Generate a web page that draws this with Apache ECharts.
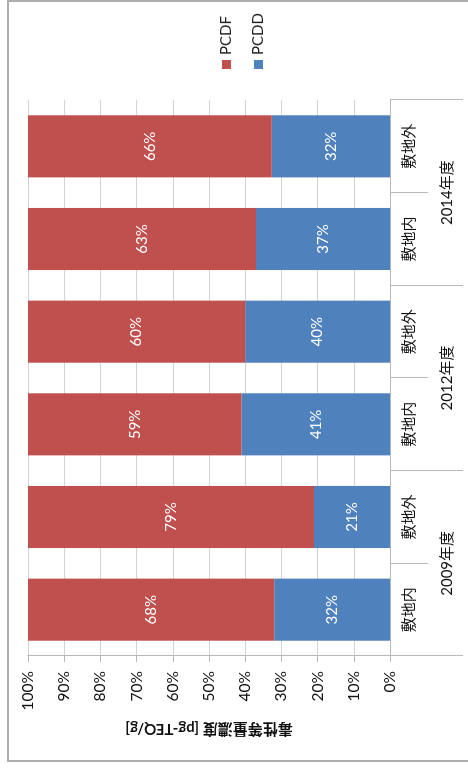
<!DOCTYPE html>
<html>
<head>
<meta charset="utf-8">
<script src="https://cdn.jsdelivr.net/npm/echarts@6/dist/echarts.min.js"></script>
<style>
html,body{margin:0;padding:0;background:#fff;}
#wrap{position:relative;width:468px;height:769px;overflow:hidden;background:#fff;}
#chart{position:absolute;left:0;top:0;width:769px;height:468px;transform-origin:0 0;transform:translate(0,769px) rotate(-90deg);}
</style>
</head>
<body>
<div id="wrap"><div id="chart"></div></div>
<script>
const subCategories = ['敷地内','敷地外','敷地内','敷地外','敷地内','敷地外'];
const years = ['2009年度','2012年度','2014年度'];
const pcdd = [32, 21, 41, 40, 37, 32];
const pcdf = [68, 79, 59, 60, 63, 66];
const valueTicks = [0,10,20,30,40,50,60,70,80,90,100];

const totals = pcdd.map((v, i) => v + pcdf[i]);
const share = (arr) => arr.map((v, i) => ({ value: v / totals[i] * 100, raw: v }));

const FONT = 'Lato, "Noto Sans CJK JP", sans-serif';
const GRID_GRAY = '#d4d4d4';
const AXIS_GRAY = '#b8b8b8';

const chart = echarts.init(document.getElementById('chart'), null, { renderer: 'canvas' });
chart.setOption({
  animation: false,
  backgroundColor: '#fff',
  textStyle: { fontFamily: FONT },
  graphic: [{
    type: 'rect',
    shape: { x: 8, y: 8, width: 760, height: 480 },
    style: { fill: 'none', stroke: '#aeaeae', lineWidth: 2 },
    silent: true
  }],
  legend: {
    data: ['PCDF', 'PCDD'],
    orient: 'vertical',
    left: 695,
    top: 214,
    itemWidth: 9,
    itemHeight: 9,
    itemGap: 17,
    icon: 'rect',
    textStyle: { fontFamily: FONT, fontSize: 15, color: '#222' }
  },
  grid: { left: 113, right: 100, top: 28, bottom: 78, containLabel: false },
  xAxis: [{
    type: 'category',
    data: subCategories,
    position: 'bottom',
    axisLine: { show: true, lineStyle: { color: AXIS_GRAY, width: 1 } },
    axisTick: { show: true, interval: 0, length: 38, lineStyle: { color: AXIS_GRAY } },
    axisLabel: { interval: 0, margin: 12, fontSize: 15, color: '#111', fontFamily: FONT },
    splitLine: { show: false }
  }, {
    type: 'category',
    data: years,
    position: 'bottom',
    axisLine: { show: false },
    axisTick: { show: true, interval: 0, length: 73, lineStyle: { color: AXIS_GRAY } },
    axisLabel: { interval: 0, margin: 50, fontSize: 15, color: '#111', fontFamily: FONT },
    splitLine: { show: false }
  }],
  yAxis: {
    type: 'value',
    min: valueTicks[0],
    max: valueTicks[valueTicks.length - 1],
    interval: 10,
    name: '毒性等量濃度 [pg-TEQ/g]',
    nameLocation: 'middle',
    nameRotate: 90,
    nameGap: 48,
    nameTextStyle: { fontFamily: FONT, fontSize: 15, fontWeight: 'bold', color: '#111' },
    axisLine: { show: true, lineStyle: { color: AXIS_GRAY } },
    axisTick: { show: true, length: 6, lineStyle: { color: AXIS_GRAY } },
    axisLabel: { margin: 15, fontSize: 15.5, color: '#111', fontFamily: FONT, formatter: '{value}%' },
    splitLine: { show: true, lineStyle: { color: GRID_GRAY, width: 1 } }
  },
  series: [{
    name: 'PCDD',
    type: 'bar',
    stack: 'total',
    xAxisIndex: 0,
    barWidth: '67%',
    itemStyle: { color: '#4F81BD' },
    label: { show: true, position: 'inside', color: '#fff', fontSize: 15, fontFamily: FONT,
      formatter: p => p.data.raw + '%' },
    data: share(pcdd)
  }, {
    name: 'PCDF',
    type: 'bar',
    stack: 'total',
    xAxisIndex: 0,
    barWidth: '67%',
    itemStyle: { color: '#C0504D' },
    label: { show: true, position: 'inside', color: '#fff', fontSize: 15, fontFamily: FONT,
      formatter: p => p.data.raw + '%' },
    data: share(pcdf)
  }]
});
</script>
</body>
</html>
